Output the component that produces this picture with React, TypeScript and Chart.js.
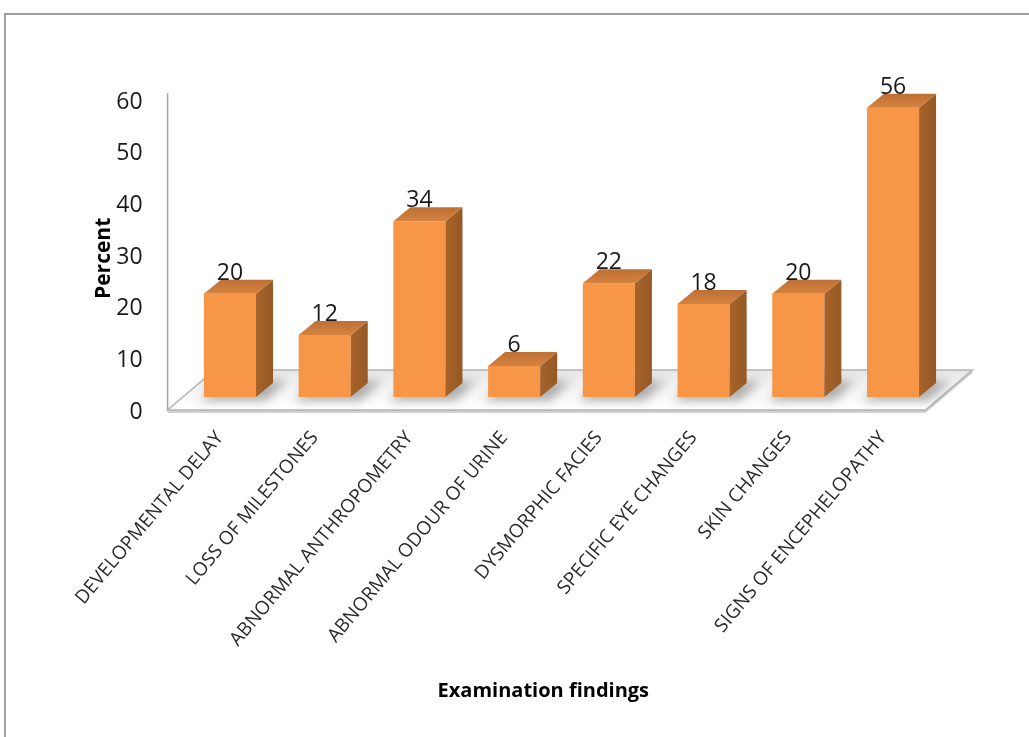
import React, { useEffect, useRef } from 'react';
import { Chart, registerables } from 'chart.js';

Chart.register(...registerables);

const categories = [
  'DEVELOPMENTAL DELAY',
  'LOSS OF MILESTONES',
  'ABNORMAL ANTHROPOMETRY',
  'ABNORMAL ODOUR OF URINE',
  'DYSMORPHIC FACIES',
  'SPECIFIC EYE CHANGES',
  'SKIN CHANGES',
  'SIGNS OF ENCEPHELOPATHY',
];
const percentValues = [20, 12, 34, 6, 22, 18, 20, 56];
const yMin = 0;
const yMax = 60;
const yStep = 10;
const yAxisTitle = 'Percent';
const xAxisTitle = 'Examination findings';

const FONT = '"Open Sans", "Noto Sans", sans-serif';
const DX = 17;
const DY = 14;

const threeDPlugin = {
  id: 'threeD',
  beforeDraw(chart: any) {
    const ctx = chart.ctx;
    ctx.save();
    ctx.strokeStyle = '#a0a0a0';
    ctx.lineWidth = 2;
    ctx.beginPath();
    ctx.moveTo(5, 737);
    ctx.lineTo(5, 14);
    ctx.lineTo(1029, 14);
    ctx.stroke();
    ctx.restore();
  },
  beforeDatasetsDraw(chart: any) {
    const ctx = chart.ctx;
    const area = chart.chartArea;
    const ys = chart.scales.y;
    const base = ys.getPixelForValue(yMin);
    const top = ys.getPixelForValue(yMax);
    const fl = [area.left - 15, base + 13];
    const fr = [area.right - 15, base + 13];
    const br = [area.right + 32, base - 27];
    const bl = [area.left + 32, base - 27];
    ctx.save();
    ctx.strokeStyle = '#a6a6a6';
    ctx.lineWidth = 1.5;
    ctx.beginPath();
    ctx.moveTo(fl[0], top + 6);
    ctx.lineTo(fl[0], fl[1]);
    ctx.stroke();
    ctx.fillStyle = '#d0d0d0';
    ctx.beginPath();
    ctx.moveTo(fl[0], fl[1]);
    ctx.lineTo(fr[0], fr[1]);
    ctx.lineTo(br[0], br[1]);
    ctx.lineTo(br[0], br[1] + 3);
    ctx.lineTo(fr[0], fr[1] + 3);
    ctx.lineTo(fl[0], fl[1] + 3);
    ctx.closePath();
    ctx.fill();
    const g = ctx.createLinearGradient(0, bl[1], 0, fl[1]);
    g.addColorStop(0, '#e6e6e6');
    g.addColorStop(0.5, '#f4f4f4');
    g.addColorStop(1, '#ffffff');
    ctx.fillStyle = g;
    ctx.beginPath();
    ctx.moveTo(fl[0], fl[1]);
    ctx.lineTo(fr[0], fr[1]);
    ctx.lineTo(br[0], br[1]);
    ctx.lineTo(bl[0], bl[1]);
    ctx.closePath();
    ctx.fill();
    ctx.strokeStyle = '#b4b4b4';
    ctx.lineWidth = 1.5;
    ctx.stroke();
    const meta = chart.getDatasetMeta(0);
    ctx.filter = 'blur(5px)';
    ctx.fillStyle = 'rgba(0,0,0,0.28)';
    meta.data.forEach((bar: any) => {
      const l = bar.x - bar.width / 2;
      const r = bar.x + bar.width / 2;
      const b = bar.base;
      ctx.beginPath();
      ctx.moveTo(l - 4, b + 4);
      ctx.lineTo(r + 10, b + 4);
      ctx.lineTo(r + DX + 14, b - DY - 2);
      ctx.lineTo(l + DX, b - DY - 2);
      ctx.closePath();
      ctx.fill();
    });
    ctx.filter = 'none';
    ctx.restore();
  },
  afterDatasetsDraw(chart: any) {
    const ctx = chart.ctx;
    const meta = chart.getDatasetMeta(0);
    ctx.save();
    meta.data.forEach((bar: any, i: number) => {
      const l = bar.x - bar.width / 2;
      const r = bar.x + bar.width / 2;
      const t = bar.y;
      const b = bar.base;
      const sg = ctx.createLinearGradient(r, 0, r + DX, 0);
      sg.addColorStop(0, '#a8632b');
      sg.addColorStop(1, '#955925');
      ctx.fillStyle = sg;
      ctx.beginPath();
      ctx.moveTo(r, t);
      ctx.lineTo(r + DX, t - DY);
      ctx.lineTo(r + DX, b - DY);
      ctx.lineTo(r, b);
      ctx.closePath();
      ctx.fill();
      const tg = ctx.createLinearGradient(0, t - DY, 0, t);
      tg.addColorStop(0, '#bd7035');
      tg.addColorStop(1, '#d4823f');
      ctx.fillStyle = tg;
      ctx.beginPath();
      ctx.moveTo(l, t);
      ctx.lineTo(l + DX, t - DY);
      ctx.lineTo(r + DX, t - DY);
      ctx.lineTo(r, t);
      ctx.closePath();
      ctx.fill();
      ctx.fillStyle = '#1a1a1a';
      ctx.font = `23px ${FONT}`;
      ctx.textAlign = 'center';
      ctx.textBaseline = 'alphabetic';
      ctx.fillText(String(percentValues[i]), bar.x, t - 14);
    });
    ctx.restore();
  },
};

export default function App() {
  const canvasRef = useRef<HTMLCanvasElement | null>(null);

  useEffect(() => {
    if (!canvasRef.current) return;
    const chart = new Chart(canvasRef.current, {
      type: 'bar',
      data: {
        labels: categories,
        datasets: [
          {
            data: percentValues,
            backgroundColor: '#f79646',
            borderWidth: 0,
            barPercentage: 0.55,
            categoryPercentage: 1,
          },
        ],
      },
      options: {
        animation: false,
        responsive: true,
        maintainAspectRatio: false,
        layout: { padding: { left: 80, right: 88.6, top: 87, bottom: 34 } },
        plugins: { legend: { display: false }, tooltip: { enabled: false } },
        scales: {
          x: {
            grid: { display: false, drawTicks: false },
            border: { display: false },
            ticks: {
              autoSkip: false,
              minRotation: 50,
              maxRotation: 50,
              padding: 30,
              labelOffset: -10,
              color: '#2a2a2a',
              font: { family: FONT, size: 19 },
            },
            title: {
              display: true,
              text: xAxisTitle + '       ',
              color: '#000',
              font: { family: FONT, size: 20, weight: 'bold' },
              padding: { top: 0, bottom: 0 },
            },
            afterFit: (s: any) => {
              s.height = 306;
            },
          },
          y: {
            min: yMin,
            max: yMax,
            grid: { display: false, drawTicks: false },
            border: { display: false },
            ticks: {
              stepSize: yStep,
              padding: 40,
              labelOffset: 15,
              color: '#1a1a1a',
              font: { family: FONT, size: 23 },
            },
            title: {
              display: true,
              text: yAxisTitle + '      ',
              color: '#000',
              font: { family: FONT, size: 21, weight: 'bold' },
              padding: { top: 11, bottom: 0 },
            },
            afterFit: (s: any) => {
              s.width = 102.6;
            },
          },
        },
      },
      plugins: [threeDPlugin],
    } as any);
    return () => chart.destroy();
  }, []);

  return (
    <div style={{ position: 'absolute', left: 0, top: 0, width: 1029, height: 737, background: '#fff' }}>
      <canvas ref={canvasRef} />
    </div>
  );
}
